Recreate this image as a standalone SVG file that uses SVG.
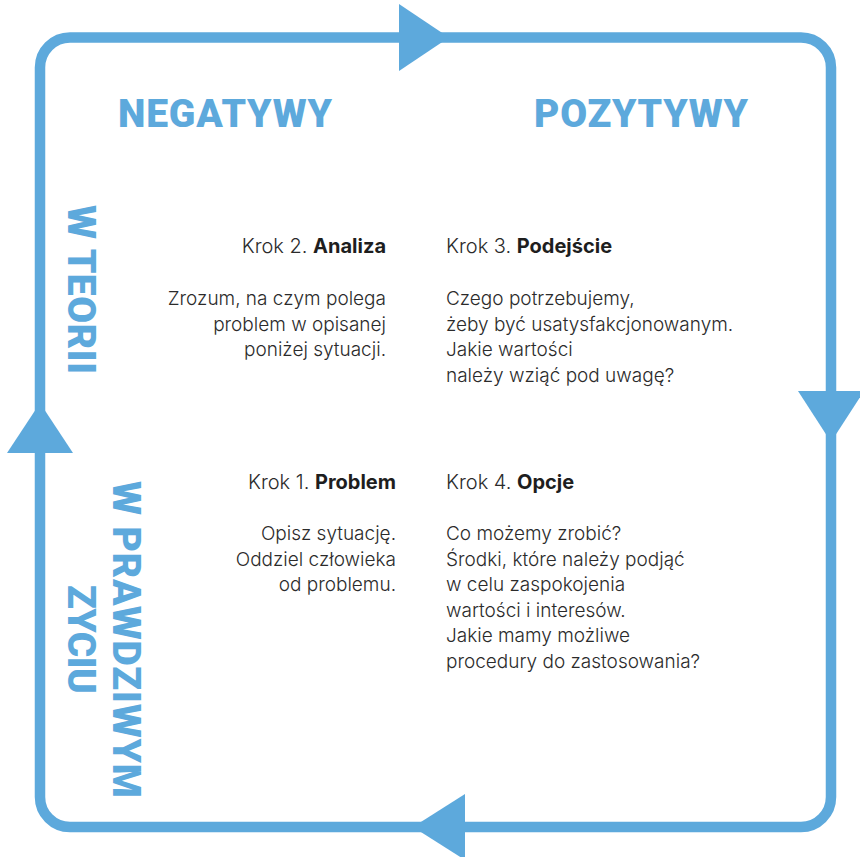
<svg xmlns="http://www.w3.org/2000/svg" width="860" height="857" viewBox="0 0 860 857">
<style>
.frame{fill:none;stroke:#5DA9DC;stroke-width:10.5}
.arrow{fill:#5DA9DC}
.head{font-family:Roboto,"Liberation Sans",sans-serif;font-weight:900;font-size:39px;fill:#5DA9DC}
.body{font-family:Inter,Roboto,"Liberation Sans",sans-serif;font-weight:300;font-size:19px;fill:#2b2b2b}
.k{font-size:20px}
.b{font-weight:700;fill:#1e1e1e}
</style>
<rect width="860" height="857" fill="#ffffff"/>
<g id="connectors">
<rect class="frame" x="40" y="37.5" width="791" height="789.5" rx="30" ry="30"/>
<polygon class="arrow" points="399,4 449,37.5 399,71"/>
<polygon class="arrow" points="798,391 864,391 831,442"/>
<polygon class="arrow" points="465,794 465,860 413,827"/>
<polygon class="arrow" points="7,453 73,453 40,403"/>
</g>
<g id="negatywy"><text class="head" x="118" y="127" textLength="214" lengthAdjust="spacing">NEGATYWY</text></g>
<g id="pozytywy"><text class="head" x="534" y="127" textLength="214" lengthAdjust="spacing">POZYTYWY</text></g>
<g id="w-teorii"><text class="head" transform="translate(68,289.5) rotate(90)" x="0" y="0" text-anchor="middle" textLength="169" lengthAdjust="spacing">W TEORII</text></g>
<g id="w-prawdziwym-zyciu">
<text class="head" transform="translate(113,639.5) rotate(90)" x="0" y="0" text-anchor="middle" textLength="317" lengthAdjust="spacing">W PRAWDZIWYM</text>
<text class="head" transform="translate(68,639.5) rotate(90)" x="0" y="0" text-anchor="middle" textLength="109" lengthAdjust="spacing">ZYCIU</text>
</g>
<g id="krok2" class="body" text-anchor="end">
<text class="k" x="386" y="253">Krok 2. <tspan class="b">Analiza</tspan></text>
<text x="386" y="305">Zrozum, na czym polega</text>
<text x="386" y="330.5">problem w opisanej</text>
<text x="386" y="356">poniżej sytuacji.</text>
</g>
<g id="krok3" class="body">
<text class="k" x="446" y="253">Krok 3. <tspan class="b">Podejście</tspan></text>
<text x="446" y="305">Czego potrzebujemy,</text>
<text x="446" y="330.5">żeby być usatysfakcjonowanym.</text>
<text x="446" y="356">Jakie wartości</text>
<text x="446" y="381.5">należy wziąć pod uwagę?</text>
</g>
<g id="krok1" class="body" text-anchor="end">
<text class="k" x="396" y="489">Krok 1. <tspan class="b">Problem</tspan></text>
<text x="396" y="540">Opisz sytuację.</text>
<text x="396" y="565.5">Oddziel człowieka</text>
<text x="396" y="591">od problemu.</text>
</g>
<g id="krok4" class="body">
<text class="k" x="446" y="489">Krok 4. <tspan class="b">Opcje</tspan></text>
<text x="446" y="540">Co możemy zrobić?</text>
<text x="446" y="565.5">Środki, które należy podjąć</text>
<text x="446" y="591">w celu zaspokojenia</text>
<text x="446" y="616.5">wartości i interesów.</text>
<text x="446" y="642">Jakie mamy możliwe</text>
<text x="446" y="667.5">procedury do zastosowania?</text>
</g>
</svg>
